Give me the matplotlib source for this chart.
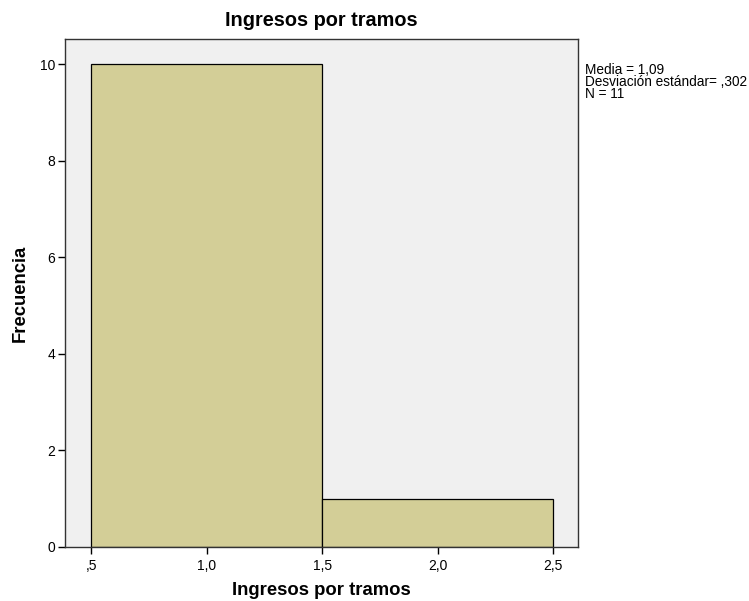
import matplotlib
matplotlib.use("Agg")
import matplotlib.pyplot as plt

plt.rcParams["font.family"] = ["Liberation Sans", "DejaVu Sans"]

bin_edges = [0.5, 1.5, 2.5]
counts = [10, 1]
x_ticks = [0.5, 1.0, 1.5, 2.0, 2.5]
x_tick_labels = [",5", "1,0", "1,5", "2,0", "2,5"]
y_ticks = [0, 2, 4, 6, 8, 10]
stats_text = "Media = 1,09\nDesviación estándar= ,302\nN = 11"

fig = plt.figure(figsize=(7.49, 6.01), dpi=100)
ax = fig.add_axes([65 / 749, 54 / 601, 513 / 749, 508 / 601])
ax.set_facecolor("#F0F0F0")

widths = [bin_edges[i + 1] - bin_edges[i] for i in range(len(counts))]
ax.bar(bin_edges[:-1], counts, width=widths, align="edge",
       color="#D3CE97", edgecolor="black", linewidth=0.9)

ax.set_xlim(0.387, 2.608)
ax.set_ylim(0, 10.52)
ax.set_xticks(x_ticks)
ax.set_xticklabels(x_tick_labels)
ax.set_yticks(y_ticks)
ax.tick_params(direction="out", length=5, width=1, labelsize=10, colors="black")
ax.tick_params(axis="x", pad=4)
ax.tick_params(axis="y", pad=2)

for s in ax.spines.values():
    s.set_color("#333333")
    s.set_linewidth(1)

ax.set_title("Ingresos por tramos", fontsize=14.3, fontweight="bold", pad=9)
ax.set_xlabel("Ingresos por tramos", fontsize=13.3, fontweight="bold", labelpad=6)
ax.set_ylabel("Frecuencia", fontsize=13.3, fontweight="bold", labelpad=8)

fig.text(585 / 749, 1 - 63 / 601, stats_text, fontsize=9.8, va="top", ha="left",
         linespacing=0.8)

fig.savefig("out.png", dpi=100)
